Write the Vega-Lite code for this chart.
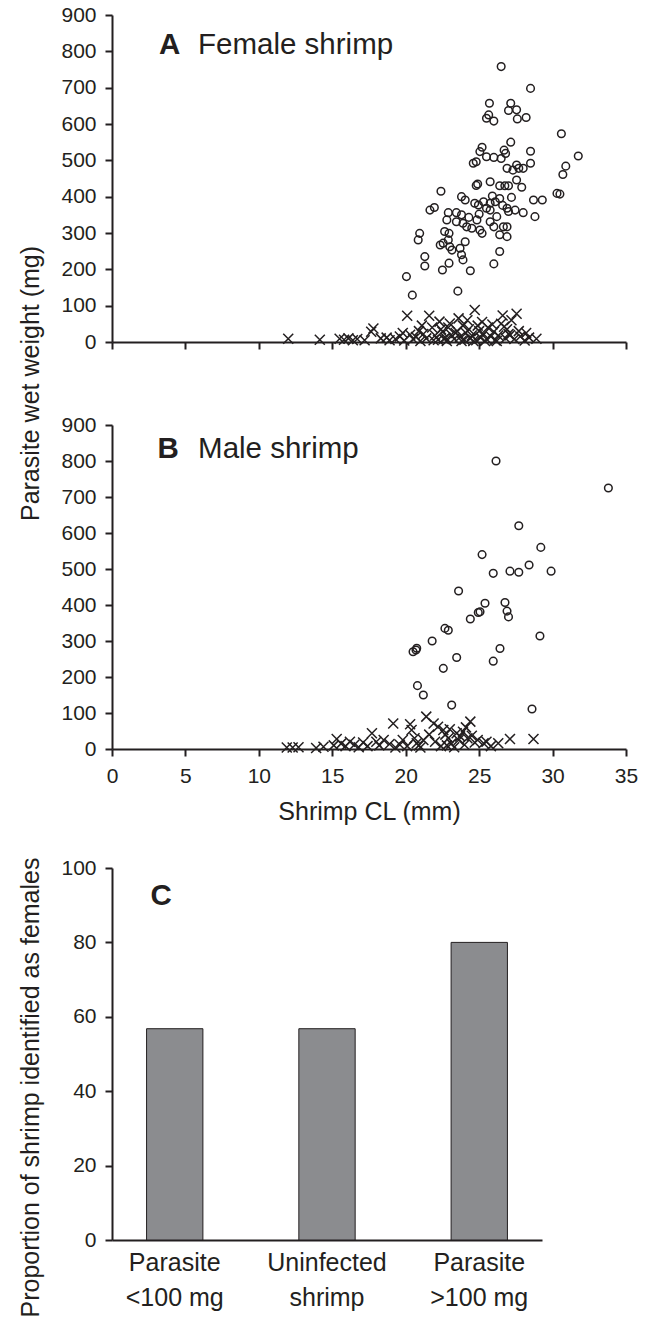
{
  "$schema": "https://vega.github.io/schema/vega-lite/v6.json",
  "padding": {"left": 18, "top": 4, "right": 5, "bottom": 2},
  "config": {
    "font": "Liberation Sans",
    "view": {"stroke": null},
    "axis": {"domainColor": "#231f20", "domainWidth": 2, "tickColor": "#231f20", "tickWidth": 2, "tickSize": 7, "labelColor": "#231f20", "titleColor": "#231f20", "labelFontSize": 21, "titleFontSize": 25, "titleFontWeight": "normal", "grid": false, "labelOverlap": false, "labelFlush": false}
  },
  "datasets": {
    "female": [
      {"cl":26.5,"wt":758,"cls":"hi"},{"cl":28.5,"wt":698,"cls":"hi"},{"cl":25.7,"wt":657,"cls":"hi"},{"cl":27.15,"wt":657,"cls":"hi"},{"cl":25.65,"wt":625,"cls":"hi"},{"cl":25.5,"wt":616,"cls":"hi"},{"cl":26.0,"wt":608,"cls":"hi"},{"cl":27.0,"wt":637,"cls":"hi"},{"cl":27.55,"wt":639,"cls":"hi"},{"cl":27.6,"wt":614,"cls":"hi"},{"cl":28.2,"wt":618,"cls":"hi"},{"cl":30.6,"wt":573,"cls":"hi"},{"cl":27.15,"wt":550,"cls":"hi"},{"cl":25.2,"wt":536,"cls":"hi"},{"cl":25.05,"wt":524,"cls":"hi"},{"cl":26.7,"wt":528,"cls":"hi"},{"cl":26.8,"wt":519,"cls":"hi"},{"cl":28.5,"wt":525,"cls":"hi"},{"cl":31.75,"wt":512,"cls":"hi"},{"cl":25.5,"wt":510,"cls":"hi"},{"cl":26.0,"wt":508,"cls":"hi"},{"cl":26.5,"wt":505,"cls":"hi"},{"cl":24.6,"wt":492,"cls":"hi"},{"cl":24.8,"wt":496,"cls":"hi"},{"cl":26.9,"wt":478,"cls":"hi"},{"cl":27.55,"wt":487,"cls":"hi"},{"cl":27.7,"wt":478,"cls":"hi"},{"cl":28.0,"wt":478,"cls":"hi"},{"cl":28.5,"wt":492,"cls":"hi"},{"cl":27.3,"wt":473,"cls":"hi"},{"cl":30.9,"wt":484,"cls":"hi"},{"cl":30.7,"wt":461,"cls":"hi"},{"cl":22.4,"wt":415,"cls":"hi"},{"cl":25.75,"wt":441,"cls":"hi"},{"cl":24.9,"wt":435,"cls":"hi"},{"cl":24.8,"wt":431,"cls":"hi"},{"cl":26.4,"wt":430,"cls":"hi"},{"cl":26.75,"wt":430,"cls":"hi"},{"cl":27.0,"wt":430,"cls":"hi"},{"cl":27.55,"wt":446,"cls":"hi"},{"cl":27.9,"wt":426,"cls":"hi"},{"cl":30.3,"wt":409,"cls":"hi"},{"cl":30.5,"wt":407,"cls":"hi"},{"cl":28.7,"wt":391,"cls":"hi"},{"cl":29.3,"wt":391,"cls":"hi"},{"cl":28.8,"wt":345,"cls":"hi"},{"cl":21.65,"wt":363,"cls":"hi"},{"cl":21.95,"wt":370,"cls":"hi"},{"cl":23.8,"wt":400,"cls":"hi"},{"cl":24.05,"wt":391,"cls":"hi"},{"cl":24.7,"wt":382,"cls":"hi"},{"cl":24.95,"wt":377,"cls":"hi"},{"cl":25.3,"wt":386,"cls":"hi"},{"cl":25.75,"wt":382,"cls":"hi"},{"cl":26.1,"wt":386,"cls":"hi"},{"cl":26.4,"wt":395,"cls":"hi"},{"cl":26.9,"wt":368,"cls":"hi"},{"cl":27.0,"wt":359,"cls":"hi"},{"cl":27.45,"wt":363,"cls":"hi"},{"cl":28.0,"wt":356,"cls":"hi"},{"cl":22.9,"wt":356,"cls":"hi"},{"cl":23.45,"wt":356,"cls":"hi"},{"cl":23.8,"wt":350,"cls":"hi"},{"cl":25.5,"wt":368,"cls":"hi"},{"cl":25.75,"wt":363,"cls":"hi"},{"cl":26.2,"wt":345,"cls":"hi"},{"cl":22.8,"wt":336,"cls":"hi"},{"cl":23.45,"wt":331,"cls":"hi"},{"cl":23.9,"wt":327,"cls":"hi"},{"cl":24.15,"wt":317,"cls":"hi"},{"cl":24.85,"wt":336,"cls":"hi"},{"cl":25.05,"wt":308,"cls":"hi"},{"cl":25.75,"wt":331,"cls":"hi"},{"cl":26.0,"wt":317,"cls":"hi"},{"cl":26.65,"wt":317,"cls":"hi"},{"cl":26.9,"wt":317,"cls":"hi"},{"cl":24.5,"wt":313,"cls":"hi"},{"cl":25.2,"wt":299,"cls":"hi"},{"cl":22.65,"wt":304,"cls":"hi"},{"cl":22.95,"wt":299,"cls":"hi"},{"cl":22.9,"wt":281,"cls":"hi"},{"cl":22.35,"wt":267,"cls":"hi"},{"cl":22.55,"wt":272,"cls":"hi"},{"cl":23.0,"wt":262,"cls":"hi"},{"cl":23.15,"wt":253,"cls":"hi"},{"cl":23.7,"wt":258,"cls":"hi"},{"cl":24.05,"wt":276,"cls":"hi"},{"cl":26.4,"wt":295,"cls":"hi"},{"cl":26.9,"wt":290,"cls":"hi"},{"cl":20.95,"wt":299,"cls":"hi"},{"cl":20.85,"wt":281,"cls":"hi"},{"cl":21.3,"wt":235,"cls":"hi"},{"cl":21.3,"wt":209,"cls":"hi"},{"cl":23.8,"wt":240,"cls":"hi"},{"cl":23.9,"wt":226,"cls":"hi"},{"cl":26.4,"wt":249,"cls":"hi"},{"cl":22.95,"wt":217,"cls":"hi"},{"cl":22.5,"wt":198,"cls":"hi"},{"cl":24.4,"wt":196,"cls":"hi"},{"cl":26.0,"wt":215,"cls":"hi"},{"cl":20.05,"wt":180,"cls":"hi"},{"cl":20.45,"wt":129,"cls":"hi"},{"cl":23.55,"wt":140,"cls":"hi"},{"cl":25.0,"wt":352,"cls":"hi"},{"cl":26.6,"wt":376,"cls":"hi"},{"cl":27.2,"wt":398,"cls":"hi"},{"cl":25.9,"wt":402,"cls":"hi"},{"cl":24.3,"wt":343,"cls":"hi"},
      {"cl":12.0,"wt":9,"cls":"lo"},{"cl":14.15,"wt":6,"cls":"lo"},{"cl":15.5,"wt":9,"cls":"lo"},{"cl":15.8,"wt":6,"cls":"lo"},{"cl":16.1,"wt":10,"cls":"lo"},{"cl":16.4,"wt":5,"cls":"lo"},{"cl":16.7,"wt":8,"cls":"lo"},{"cl":17.2,"wt":5,"cls":"lo"},{"cl":17.65,"wt":28,"cls":"lo"},{"cl":17.8,"wt":37,"cls":"lo"},{"cl":18.3,"wt":10,"cls":"lo"},{"cl":18.9,"wt":5,"cls":"lo"},{"cl":19.3,"wt":8,"cls":"lo"},{"cl":19.6,"wt":15,"cls":"lo"},{"cl":19.9,"wt":4,"cls":"lo"},{"cl":20.1,"wt":72,"cls":"lo"},{"cl":20.3,"wt":20,"cls":"lo"},{"cl":20.5,"wt":8,"cls":"lo"},{"cl":20.7,"wt":14,"cls":"lo"},{"cl":20.9,"wt":30,"cls":"lo"},{"cl":21.0,"wt":3,"cls":"lo"},{"cl":21.2,"wt":22,"cls":"lo"},{"cl":21.4,"wt":10,"cls":"lo"},{"cl":21.6,"wt":72,"cls":"lo"},{"cl":21.8,"wt":40,"cls":"lo"},{"cl":21.9,"wt":5,"cls":"lo"},{"cl":22.0,"wt":18,"cls":"lo"},{"cl":22.2,"wt":6,"cls":"lo"},{"cl":22.3,"wt":56,"cls":"lo"},{"cl":22.5,"wt":28,"cls":"lo"},{"cl":22.7,"wt":12,"cls":"lo"},{"cl":22.8,"wt":3,"cls":"lo"},{"cl":22.9,"wt":40,"cls":"lo"},{"cl":23.0,"wt":51,"cls":"lo"},{"cl":23.1,"wt":20,"cls":"lo"},{"cl":23.3,"wt":8,"cls":"lo"},{"cl":23.4,"wt":25,"cls":"lo"},{"cl":23.5,"wt":30,"cls":"lo"},{"cl":23.6,"wt":65,"cls":"lo"},{"cl":23.7,"wt":14,"cls":"lo"},{"cl":23.8,"wt":3,"cls":"lo"},{"cl":23.9,"wt":45,"cls":"lo"},{"cl":24.0,"wt":6,"cls":"lo"},{"cl":24.1,"wt":25,"cls":"lo"},{"cl":24.2,"wt":60,"cls":"lo"},{"cl":24.3,"wt":35,"cls":"lo"},{"cl":24.4,"wt":10,"cls":"lo"},{"cl":24.5,"wt":18,"cls":"lo"},{"cl":24.6,"wt":3,"cls":"lo"},{"cl":24.7,"wt":88,"cls":"lo"},{"cl":24.8,"wt":5,"cls":"lo"},{"cl":24.9,"wt":45,"cls":"lo"},{"cl":25.0,"wt":30,"cls":"lo"},{"cl":25.1,"wt":12,"cls":"lo"},{"cl":25.2,"wt":55,"cls":"lo"},{"cl":25.3,"wt":22,"cls":"lo"},{"cl":25.4,"wt":3,"cls":"lo"},{"cl":25.5,"wt":8,"cls":"lo"},{"cl":25.6,"wt":40,"cls":"lo"},{"cl":25.8,"wt":15,"cls":"lo"},{"cl":25.9,"wt":48,"cls":"lo"},{"cl":26.0,"wt":28,"cls":"lo"},{"cl":26.1,"wt":5,"cls":"lo"},{"cl":26.2,"wt":3,"cls":"lo"},{"cl":26.3,"wt":18,"cls":"lo"},{"cl":26.5,"wt":50,"cls":"lo"},{"cl":26.6,"wt":73,"cls":"lo"},{"cl":26.7,"wt":42,"cls":"lo"},{"cl":26.8,"wt":10,"cls":"lo"},{"cl":26.9,"wt":35,"cls":"lo"},{"cl":27.0,"wt":22,"cls":"lo"},{"cl":27.1,"wt":19,"cls":"lo"},{"cl":27.2,"wt":60,"cls":"lo"},{"cl":27.4,"wt":8,"cls":"lo"},{"cl":27.55,"wt":78,"cls":"lo"},{"cl":27.7,"wt":30,"cls":"lo"},{"cl":27.8,"wt":15,"cls":"lo"},{"cl":28.1,"wt":4,"cls":"lo"},{"cl":28.2,"wt":25,"cls":"lo"},{"cl":28.4,"wt":12,"cls":"lo"},{"cl":28.9,"wt":9,"cls":"lo"},{"cl":19.8,"wt":25,"cls":"lo"},{"cl":18.7,"wt":12,"cls":"lo"},{"cl":22.6,"wt":8,"cls":"lo"},{"cl":21.1,"wt":45,"cls":"lo"},{"cl":22.4,"wt":35,"cls":"lo"}
    ],
    "male": [
      {"cl":26.15,"wt":800,"cls":"hi"},{"cl":33.8,"wt":725,"cls":"hi"},{"cl":27.7,"wt":620,"cls":"hi"},{"cl":29.2,"wt":560,"cls":"hi"},{"cl":28.4,"wt":511,"cls":"hi"},{"cl":29.9,"wt":494,"cls":"hi"},{"cl":25.96,"wt":488,"cls":"hi"},{"cl":27.1,"wt":494,"cls":"hi"},{"cl":27.7,"wt":491,"cls":"hi"},{"cl":25.2,"wt":540,"cls":"hi"},{"cl":25.4,"wt":405,"cls":"hi"},{"cl":25.06,"wt":381,"cls":"hi"},{"cl":26.76,"wt":407,"cls":"hi"},{"cl":26.9,"wt":383,"cls":"hi"},{"cl":27.0,"wt":367,"cls":"hi"},{"cl":29.14,"wt":314,"cls":"hi"},{"cl":26.42,"wt":279,"cls":"hi"},{"cl":25.96,"wt":244,"cls":"hi"},{"cl":28.6,"wt":111,"cls":"hi"},{"cl":23.6,"wt":439,"cls":"hi"},{"cl":24.4,"wt":361,"cls":"hi"},{"cl":24.94,"wt":379,"cls":"hi"},{"cl":22.67,"wt":335,"cls":"hi"},{"cl":22.9,"wt":330,"cls":"hi"},{"cl":21.8,"wt":300,"cls":"hi"},{"cl":20.5,"wt":270,"cls":"hi"},{"cl":20.75,"wt":280,"cls":"hi"},{"cl":20.7,"wt":275,"cls":"hi"},{"cl":23.47,"wt":254,"cls":"hi"},{"cl":22.56,"wt":224,"cls":"hi"},{"cl":20.8,"wt":176,"cls":"hi"},{"cl":21.2,"wt":150,"cls":"hi"},{"cl":23.13,"wt":122,"cls":"hi"},
      {"cl":11.9,"wt":4,"cls":"lo"},{"cl":12.3,"wt":4,"cls":"lo"},{"cl":12.7,"wt":5,"cls":"lo"},{"cl":13.9,"wt":3,"cls":"lo"},{"cl":14.4,"wt":6,"cls":"lo"},{"cl":15.1,"wt":10,"cls":"lo"},{"cl":15.3,"wt":28,"cls":"lo"},{"cl":15.6,"wt":15,"cls":"lo"},{"cl":15.9,"wt":8,"cls":"lo"},{"cl":16.2,"wt":20,"cls":"lo"},{"cl":16.5,"wt":12,"cls":"lo"},{"cl":16.8,"wt":5,"cls":"lo"},{"cl":17.1,"wt":18,"cls":"lo"},{"cl":17.4,"wt":8,"cls":"lo"},{"cl":17.7,"wt":44,"cls":"lo"},{"cl":18.0,"wt":20,"cls":"lo"},{"cl":18.2,"wt":10,"cls":"lo"},{"cl":18.5,"wt":25,"cls":"lo"},{"cl":18.9,"wt":14,"cls":"lo"},{"cl":19.15,"wt":71,"cls":"lo"},{"cl":19.3,"wt":4,"cls":"lo"},{"cl":19.6,"wt":12,"cls":"lo"},{"cl":19.8,"wt":25,"cls":"lo"},{"cl":20.1,"wt":8,"cls":"lo"},{"cl":20.3,"wt":69,"cls":"lo"},{"cl":20.4,"wt":53,"cls":"lo"},{"cl":20.6,"wt":30,"cls":"lo"},{"cl":20.75,"wt":16,"cls":"lo"},{"cl":20.9,"wt":10,"cls":"lo"},{"cl":21.2,"wt":25,"cls":"lo"},{"cl":21.4,"wt":90,"cls":"lo"},{"cl":21.6,"wt":40,"cls":"lo"},{"cl":21.9,"wt":71,"cls":"lo"},{"cl":22.0,"wt":20,"cls":"lo"},{"cl":22.2,"wt":62,"cls":"lo"},{"cl":22.4,"wt":8,"cls":"lo"},{"cl":22.56,"wt":53,"cls":"lo"},{"cl":22.7,"wt":40,"cls":"lo"},{"cl":22.9,"wt":30,"cls":"lo"},{"cl":23.1,"wt":15,"cls":"lo"},{"cl":23.3,"wt":5,"cls":"lo"},{"cl":23.47,"wt":44,"cls":"lo"},{"cl":23.6,"wt":25,"cls":"lo"},{"cl":23.9,"wt":48,"cls":"lo"},{"cl":24.0,"wt":12,"cls":"lo"},{"cl":24.2,"wt":30,"cls":"lo"},{"cl":24.4,"wt":76,"cls":"lo"},{"cl":24.5,"wt":37,"cls":"lo"},{"cl":24.7,"wt":18,"cls":"lo"},{"cl":24.9,"wt":25,"cls":"lo"},{"cl":25.3,"wt":16,"cls":"lo"},{"cl":25.5,"wt":20,"cls":"lo"},{"cl":25.8,"wt":8,"cls":"lo"},{"cl":26.3,"wt":16,"cls":"lo"},{"cl":27.1,"wt":28,"cls":"lo"},{"cl":28.7,"wt":28,"cls":"lo"},{"cl":23.7,"wt":35,"cls":"lo"},{"cl":24.1,"wt":60,"cls":"lo"},{"cl":21.0,"wt":4,"cls":"lo"},{"cl":22.8,"wt":10,"cls":"lo"},{"cl":23.0,"wt":55,"cls":"lo"}
    ],
    "females_pct": [
      {"group":"Parasite <100 mg","pct":56.8},
      {"group":"Uninfected shrimp","pct":56.8},
      {"group":"Parasite >100 mg","pct":80.0}
    ]
  },
  "spacing": 33,
  "vconcat": [
    {
      "bounds": "flush",
      "spacing": 83,
      "vconcat": [
        {
          "width": 514,
          "height": 327,
          "layer": [
            {
              "data": {"name": "female"},
              "mark": {"type": "point", "filled": false, "strokeWidth": 1.5, "color": "#231f20", "opacity": 1},
              "encoding": {
                "x": {"field": "cl", "type": "quantitative", "scale": {"domain": [0, 35], "nice": false}, "axis": {"values": [0,5,10,15,20,25,30,35], "labels": false, "title": null}},
                "y": {"field": "wt", "type": "quantitative", "scale": {"domain": [0, 900], "nice": false}, "axis": {"values": [0,100,200,300,400,500,600,700,800,900], "tickCount": 10, "labelOverlap": false, "title": "Parasite wet weight (mg)", "titleY": 368, "labelPadding": 9, "titlePadding": 17}},
                "shape": {"field": "cls", "type": "nominal", "scale": {"domain": ["hi", "lo"], "range": ["circle", "M-1,-1L1,1M-1,1L1,-1"]}, "legend": null},
                "size": {"field": "cls", "type": "ordinal", "scale": {"domain": ["hi", "lo"], "range": [58, 100]}, "legend": null}
              }
            },
            {
              "data": {"values": [{"t": "A"}]},
              "mark": {"type": "text", "align": "left", "baseline": "alphabetic", "fontSize": 29.5, "fontWeight": "bold", "color": "#231f20"},
              "encoding": {"x": {"datum": 3.2, "type": "quantitative"}, "y": {"datum": 793, "type": "quantitative"}, "text": {"field": "t"}}
            },
            {
              "data": {"values": [{"t": "Female shrimp"}]},
              "mark": {"type": "text", "align": "left", "baseline": "alphabetic", "fontSize": 29.5, "color": "#231f20"},
              "encoding": {"x": {"datum": 5.86, "type": "quantitative"}, "y": {"datum": 793, "type": "quantitative"}, "text": {"field": "t"}}
            }
          ]
        },
        {
          "width": 514,
          "height": 324,
          "layer": [
            {
              "data": {"name": "male"},
              "mark": {"type": "point", "filled": false, "strokeWidth": 1.5, "color": "#231f20", "opacity": 1},
              "encoding": {
                "x": {"field": "cl", "type": "quantitative", "scale": {"domain": [0, 35], "nice": false}, "axis": {"values": [0,5,10,15,20,25,30,35], "labelOverlap": false, "title": "Shrimp CL (mm)", "labelPadding": 9, "titlePadding": 13}},
                "y": {"field": "wt", "type": "quantitative", "scale": {"domain": [0, 900], "nice": false}, "axis": {"values": [0,100,200,300,400,500,600,700,800,900], "tickCount": 10, "labelOverlap": false, "title": null, "labelPadding": 9}},
                "shape": {"field": "cls", "type": "nominal", "scale": {"domain": ["hi", "lo"], "range": ["circle", "M-1,-1L1,1M-1,1L1,-1"]}, "legend": null},
                "size": {"field": "cls", "type": "ordinal", "scale": {"domain": ["hi", "lo"], "range": [58, 100]}, "legend": null}
              }
            },
            {
              "data": {"values": [{"t": "B"}]},
              "mark": {"type": "text", "align": "left", "baseline": "alphabetic", "fontSize": 29.5, "fontWeight": "bold", "color": "#231f20"},
              "encoding": {"x": {"datum": 3.1, "type": "quantitative"}, "y": {"datum": 808, "type": "quantitative"}, "text": {"field": "t"}}
            },
            {
              "data": {"values": [{"t": "Male shrimp"}]},
              "mark": {"type": "text", "align": "left", "baseline": "alphabetic", "fontSize": 29.5, "color": "#231f20"},
              "encoding": {"x": {"datum": 5.86, "type": "quantitative"}, "y": {"datum": 808, "type": "quantitative"}, "text": {"field": "t"}}
            }
          ]
        }
      ]
    },
    {
      "width": 430,
      "height": 372,
      "layer": [
        {
          "data": {"name": "females_pct"},
          "mark": {"type": "bar", "fill": "#8b8c8f", "stroke": "#231f20", "strokeWidth": 1},
          "encoding": {
            "x": {"field": "group", "type": "nominal", "sort": null, "scale": {"paddingInner": 0.63, "paddingOuter": 0.227}, "axis": {"ticks": false, "labelAngle": 0, "labelFontSize": 25, "labelLineHeight": 35, "labelPadding": 10, "title": null, "labelExpr": "[slice(datum.label, 0, indexof(datum.label, ' ')), slice(datum.label, indexof(datum.label, ' ') + 1)]"}},
            "y": {"field": "pct", "type": "quantitative", "scale": {"domain": [0, 100], "nice": false}, "axis": {"values": [0,20,40,60,80,100], "labelOverlap": false, "title": "Proportion of shrimp identified as females", "titleY": 219, "labelPadding": 9, "titlePadding": 17}}
          }
        },
        {
          "data": {"values": [{"t": "C"}]},
          "mark": {"type": "text", "align": "left", "baseline": "alphabetic", "fontSize": 29.5, "fontWeight": "bold", "color": "#231f20"},
          "encoding": {"x": {"datum": "Parasite <100 mg", "type": "nominal", "bandPosition": 0.07}, "y": {"datum": 90, "type": "quantitative"}, "text": {"field": "t"}}
        }
      ]
    }
  ]
}
